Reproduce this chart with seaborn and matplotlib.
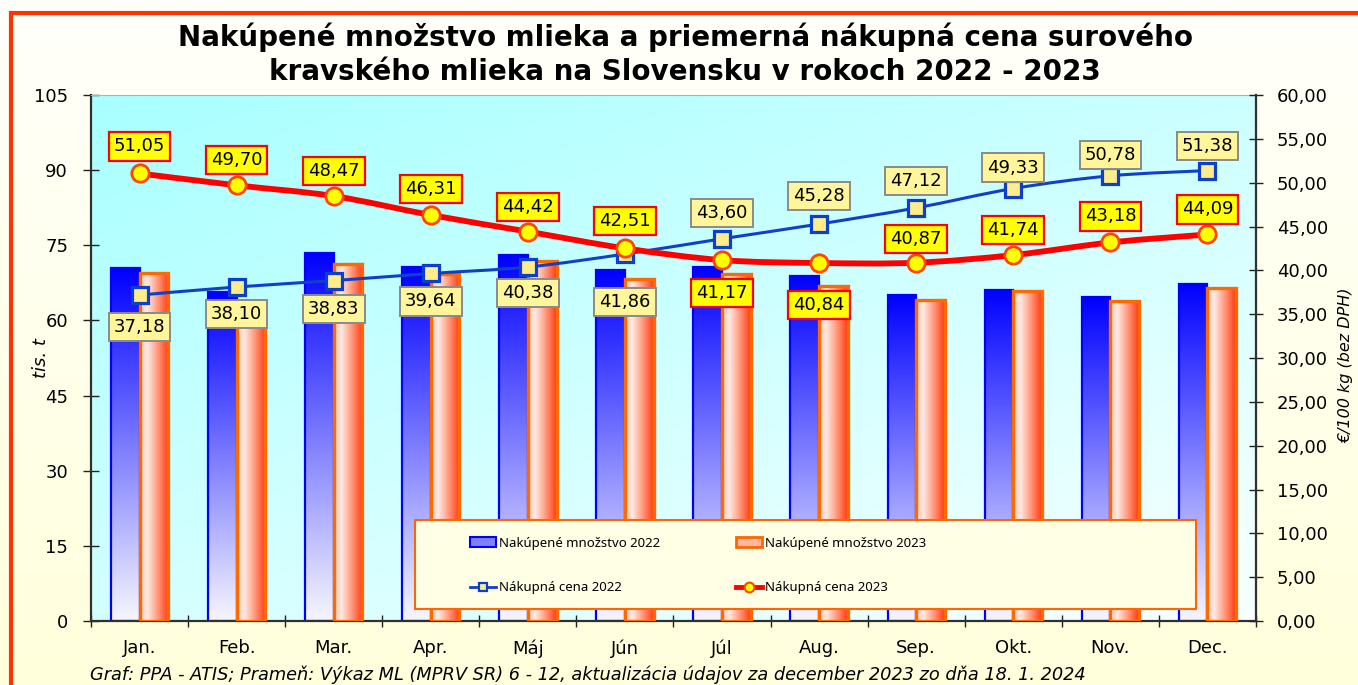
import numpy as np
import pandas as pd
import matplotlib
matplotlib.use("Agg")
import matplotlib.pyplot as plt
import seaborn as sns
from matplotlib.patches import Rectangle, Patch, PathPatch
from matplotlib.path import Path
from matplotlib.lines import Line2D
from matplotlib.colors import to_rgb, LinearSegmentedColormap

# ---------------- data ----------------
months = ["Jan.", "Feb.", "Mar.", "Apr.", "Máj", "Jún", "Júl", "Aug.", "Sep.", "Okt.", "Nov.", "Dec."]
years = ["2022", "2023"]
qty_2022 = [70.4, 65.6, 73.5, 70.6, 73.0, 70.1, 70.7, 68.9, 65.1, 66.1, 64.6, 67.3]
qty_2023 = [69.4, 63.0, 71.3, 69.3, 71.9, 68.2, 69.2, 66.9, 64.1, 65.8, 63.8, 66.5]
price_2022 = [37.18, 38.10, 38.83, 39.64, 40.38, 41.86, 43.60, 45.28, 47.12, 49.33, 50.78, 51.38]
price_2023 = [51.05, 49.70, 48.47, 46.31, 44.42, 42.51, 41.17, 40.84, 40.87, 41.74, 43.18, 44.09]
left_ticks = [0, 15, 30, 45, 60, 75, 90, 105]
right_ticks = [0, 5, 10, 15, 20, 25, 30, 35, 40, 45, 50, 55, 60]

legend_labels = ["Nakúpené množstvo 2022", "Nákupná cena 2022",
                 "Nakúpené množstvo 2023", "Nákupná cena 2023"]
title = ("Nakúpené množstvo mlieka a priemerná nákupná cena surového\n"
         "kravského mlieka na Slovensku v rokoch 2022 - 2023")
footer = ("Graf: PPA - ATIS; Prameň: Výkaz ML (MPRV SR) 6 - 12, aktualizácia údajov "
          "za december 2023 zo dňa 18. 1. 2024")

# label vertical offsets (pixels, positive = above point) - styling only
dy_2022 = [-32, -27, -28, -28, -26, -48, 26, 28, 27, 21, 21, 25]
dy_2023 = [27, 25, 25, 26, 25, 27, -33, -42, 24, 25, 26, 25]

# ---------------- figure ----------------
W, H = 1358, 685
fig = plt.figure(figsize=(W / 100, H / 100), dpi=100)
plt.rcParams['font.family'] = ['DejaVu Sans']

# figure background gradient + border
bg = fig.add_axes([0, 0, 1, 1], zorder=-5)
bg.axis("off")
g = np.linspace(0, 1, 256)[:, None, None]
c_top = np.array(to_rgb("#FFFFFB"))
c_bot = np.array(to_rgb("#FFFFDC"))
bg.imshow(c_top * (1 - g) + c_bot * g, extent=[0, 1, 0, 1], aspect="auto", origin="upper")
bg.set_xlim(0, 1)
bg.set_ylim(0, 1)
bg.add_patch(Rectangle((11 / W, -0.3), 1.3, (1 - 12.5 / H) + 0.3, fill=False,
                       ec="#FF3300", lw=3, clip_on=False))

ax = fig.add_axes([91 / W, 1 - 621 / H, (1256 - 91) / W, (621 - 95) / H])

df_q = pd.DataFrame({
    "Mesiac": months * 2,
    "Rok": [years[0]] * len(months) + [years[1]] * len(months),
    "tis. t": qty_2022 + qty_2023,
})
sns.barplot(data=df_q, x="Mesiac", y="tis. t", hue="Rok", order=months, hue_order=years,
            palette={"2022": "#3030FF", "2023": "#FF7040"}, width=0.59, saturation=1,
            errorbar=None, legend=False, ax=ax)

# gradients for bars
blue_grad = np.linspace(0, 1, 256)[:, None, None]
b_top = np.array(to_rgb("#0000FF"))
b_bot = np.array(to_rgb("#F6F6FF"))
blue_img = b_top * (1 - blue_grad) + b_bot * blue_grad
ocmap = LinearSegmentedColormap.from_list(
    "or", [(0, "#FFC4B0"), (0.25, "#FFEAE4"), (0.6, "#FF9C80"), (1, "#FF3A10")])
orange_img = ocmap(np.linspace(0, 1, 128))[None, :, :3]

for p in list(ax.patches):
    x0, w, h = p.get_x(), p.get_width(), p.get_height()
    cx = x0 + w / 2
    is_2022 = cx < round(cx)
    if is_2022:
        img = ax.imshow(blue_img, extent=[x0, x0 + w, 0, h], aspect="auto",
                        origin="upper", zorder=2, interpolation="bilinear")
        p.set_facecolor("none")
        p.set_edgecolor("#0000FF")
        p.set_linewidth(1.6)
        p.set_zorder(2.1)
    else:
        img = ax.imshow(orange_img, extent=[x0, x0 + w, 0, h], aspect="auto",
                        origin="upper", zorder=3, interpolation="bilinear")
        p.set_facecolor("none")
        p.set_edgecolor("#FF6A00")
        p.set_linewidth(2.4)
        p.set_zorder(3.1)
    img.set_clip_path(p)

# plot-area gradient
yy, xx = np.mgrid[0:1:200j, 0:1:300j]
t = np.clip(0.55 * yy + 0.45 * xx, 0, 1)[:, :, None]
p_tl = np.array(to_rgb("#A8FFFF"))
p_br = np.array(to_rgb("#F8FFFF"))
ax.imshow(p_tl * (1 - t) + p_br * t, extent=[0, 1, 0, 1], transform=ax.transAxes,
          aspect="auto", origin="upper", zorder=0)

ax.set_xlim(-0.5, len(months) - 0.5)
ax.set_ylim(0, 105)
ax.set_yticks(left_ticks)
ax.set_xticks(range(len(months)), labels=months)
ax.set_xticks(np.arange(-0.5, len(months), 1), minor=True)
ax.tick_params(axis="x", which="major", length=0, pad=13, labelsize=13)
ax.tick_params(axis="x", which="minor", direction="inout", length=8, width=1, color="#202020")
ax.tick_params(axis="y", direction="inout", length=11, width=1, color="#202020",
               pad=11, labelsize=13)
ax.set_xlabel("")
ax.set_ylabel("tis. t", fontsize=13, style="italic")
ax.yaxis.set_label_coords(-0.035, 0.5)
for s in ["left", "bottom"]:
    ax.spines[s].set_color("#303030")
    ax.spines[s].set_linewidth(1.6)
ax.spines["top"].set_color("#B0B0B0")
ax.spines["right"].set_visible(False)

# ---------------- prices on secondary axis ----------------
ax2 = ax.twinx()
xpos = np.arange(len(months))
sns.lineplot(x=xpos, y=price_2022, ax=ax2, color="#1040C8", lw=2.2, marker="s",
             markersize=11, markerfacecolor="#FFEC8A", markeredgecolor="#0B3FCC",
             markeredgewidth=2.3, zorder=5.5)
sns.lineplot(x=xpos, y=price_2023, ax=ax2, color="#FF0000", lw=4.2, marker="o",
             markersize=12.5, markerfacecolor="#FFFF00", markeredgecolor="#FF4500",
             markeredgewidth=2, zorder=6.5)


def smooth_line(line, z):
    """Replace the straight segments of a seaborn line by a smooth Bezier path."""
    pts = line.get_xydata()
    n = len(pts)
    verts = [pts[0]]
    codes = [Path.MOVETO]
    for i in range(n - 1):
        p0 = pts[max(i - 1, 0)]
        p1 = pts[i]
        p2 = pts[i + 1]
        p3 = pts[min(i + 2, n - 1)]
        verts += [p1 + (p2 - p0) / 6, p2 - (p3 - p1) / 6, p2]
        codes += [Path.CURVE4] * 3
    patch = PathPatch(Path(verts, codes), fill=False, ec=line.get_color(),
                      lw=line.get_linewidth(), capstyle="round", joinstyle="round",
                      zorder=z)
    ax2.add_patch(patch)
    line.set_linestyle("none")


for ln, z in zip(ax2.get_lines()[:2], [5, 6]):
    smooth_line(ln, z)

ax2.set_ylim(0, 60)
ax2.set_xlim(-0.5, len(months) - 0.5)
ax2.set_yticks(right_ticks, labels=[f"{v:.2f}".replace(".", ",") for v in right_ticks])
ax2.tick_params(axis="y", direction="inout", length=10, width=1, color="#202020",
                pad=10, labelsize=13)
for s in ["left", "top", "bottom"]:
    ax2.spines[s].set_visible(False)
ax2.spines["right"].set_color("#303030")
ax2.spines["right"].set_linewidth(1.6)

for i, (v, dy) in enumerate(zip(price_2022, dy_2022)):
    ax2.annotate(f"{v:.2f}".replace(".", ","), xy=(i, v), xytext=(0, dy * 0.72),
                 textcoords="offset points", ha="center", va="center", fontsize=13,
                 zorder=8,
                 bbox=dict(boxstyle="square,pad=0.28", fc="#FFF59A", ec="#8A8A8A", lw=1.4))
for i, (v, dy) in enumerate(zip(price_2023, dy_2023)):
    ax2.annotate(f"{v:.2f}".replace(".", ","), xy=(i, v), xytext=(0, dy * 0.72),
                 textcoords="offset points", ha="center", va="center", fontsize=13,
                 zorder=9,
                 bbox=dict(boxstyle="square,pad=0.28", fc="#FFFF00", ec="#FF0000", lw=1.6))

# ---------------- legend ----------------
fig.add_artist(Rectangle((415 / W, 1 - 609 / H), (1196 - 415) / W, (609 - 520) / H,
                         transform=fig.transFigure, fc="#FFFFE6", ec="#FF6600", lw=1.5,
                         zorder=3))
h_bar22 = Patch(fc="#8080FF", ec="#0000FF", lw=1.5)
h_bar23 = Patch(fc="#FFB8A0", ec="#FF6600", lw=2)
h_ln22 = Line2D([], [], color="#1040C8", lw=2, marker="s", markersize=6,
                markerfacecolor="#FFEC8A", markeredgecolor="#0B3FCC", markeredgewidth=1.6)
h_ln23 = Line2D([], [], color="#FF0000", lw=3.5, marker="o", markersize=7,
                markerfacecolor="#FFFF00", markeredgecolor="#FF4500", markeredgewidth=1.5)
leg_kw = dict(loc="center left", frameon=False, borderpad=0,
              prop={"family": ["Noto Sans", "DejaVu Sans"], "size": 9.5},
              handlelength=2.0, handletextpad=0.25, labelspacing=2.4)
leg1 = fig.legend([h_bar22, h_ln22], legend_labels[:2],
                  bbox_to_anchor=(463 / W, 1 - 565.5 / H), **leg_kw)
leg2 = fig.legend([h_bar23, h_ln23], legend_labels[2:],
                  bbox_to_anchor=(729 / W, 1 - 565.5 / H), **leg_kw)
leg1.set_zorder(4)
leg2.set_zorder(4)

# ---------------- texts ----------------
fig.text(685 / W, 1 - 54.5 / H, title, ha="center", va="center", fontsize=20,
         fontweight="bold", linespacing=1.25)
fig.text(1346 / W, 1 - 365 / H, "€/100 kg (bez DPH)", rotation=90, ha="center",
         va="center", fontsize=11.5, style="italic")
fig.text(90 / W, 1 - 675 / H, footer, ha="left", va="center", fontsize=12.8, style="italic")

fig.savefig("out.png", dpi=100)
